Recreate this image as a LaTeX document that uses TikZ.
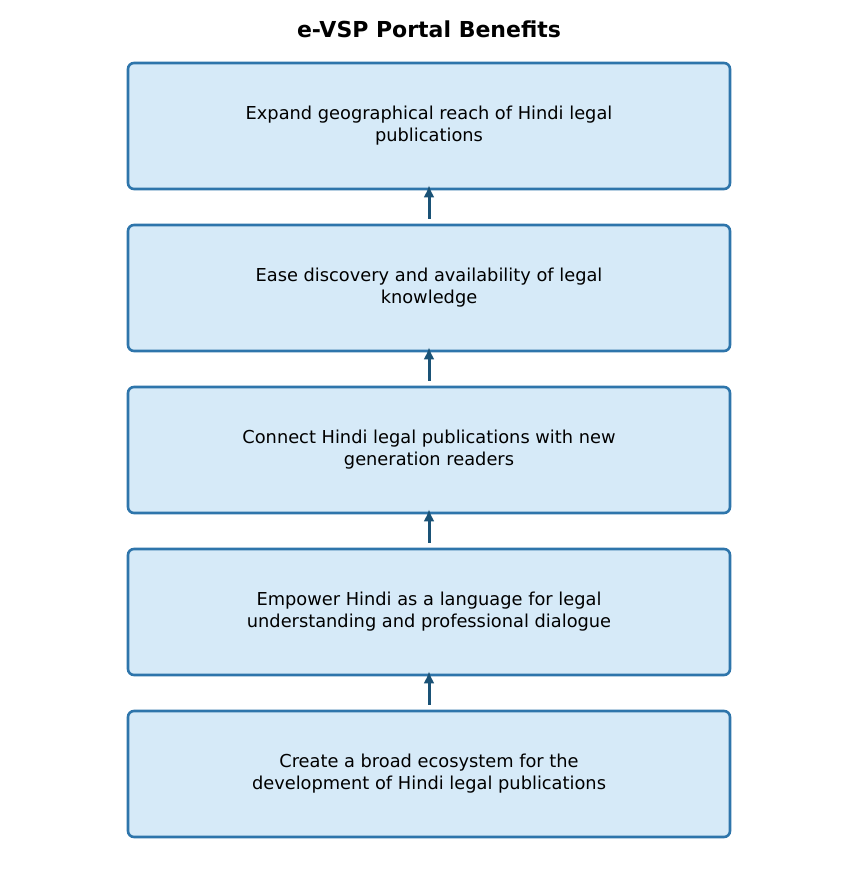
\documentclass[tikz,border=0pt]{standalone}
\usepackage{fontspec}
\setmainfont{DejaVu Sans}
\usepackage{tikz}
\usetikzlibrary{arrows.meta, positioning}
\definecolor{bleu}{RGB}{46,117,171}
\definecolor{bleulight}{RGB}{214,234,248}
\definecolor{bleudark}{RGB}{26,82,118}

\begin{document}
\begin{tikzpicture}[x=1pt, y=-1pt,
	benefit/.style={draw=bleu, fill=bleulight, line width=2.6pt, rounded corners=6pt,
		minimum width=602pt, minimum height=126pt, align=center,
		font=\fontsize{17.8}{22}\selectfont},
	lien/.style={-{Latex[length=12pt,width=11pt]}, bleudark, line width=3pt,
		shorten <=5pt, shorten >=-5pt}]
	\useasboundingbox (0,0) rectangle (858,877);
	
	\node[font=\bfseries\fontsize{22}{26}\selectfont] (titre) at (429,29) {e-VSP Portal Benefits};
	
	\node[benefit] (B1) at (429,126) {Expand geographical reach of Hindi legal\\publications};
	\node[benefit] (B2) at (429,288) {Ease discovery and availability of legal\\knowledge};
	\node[benefit] (B3) at (429,450) {Connect Hindi legal publications with new\\generation readers};
	\node[benefit] (B4) at (429,612) {Empower Hindi as a language for legal\\understanding and professional dialogue};
	\node[benefit] (B5) at (429,774) {Create a broad ecosystem for the\\development of Hindi legal publications};
	
	\draw[lien] (B5) -- (B4);
	\draw[lien] (B4) -- (B3);
	\draw[lien] (B3) -- (B2);
	\draw[lien] (B2) -- (B1);
\end{tikzpicture}
\end{document}
